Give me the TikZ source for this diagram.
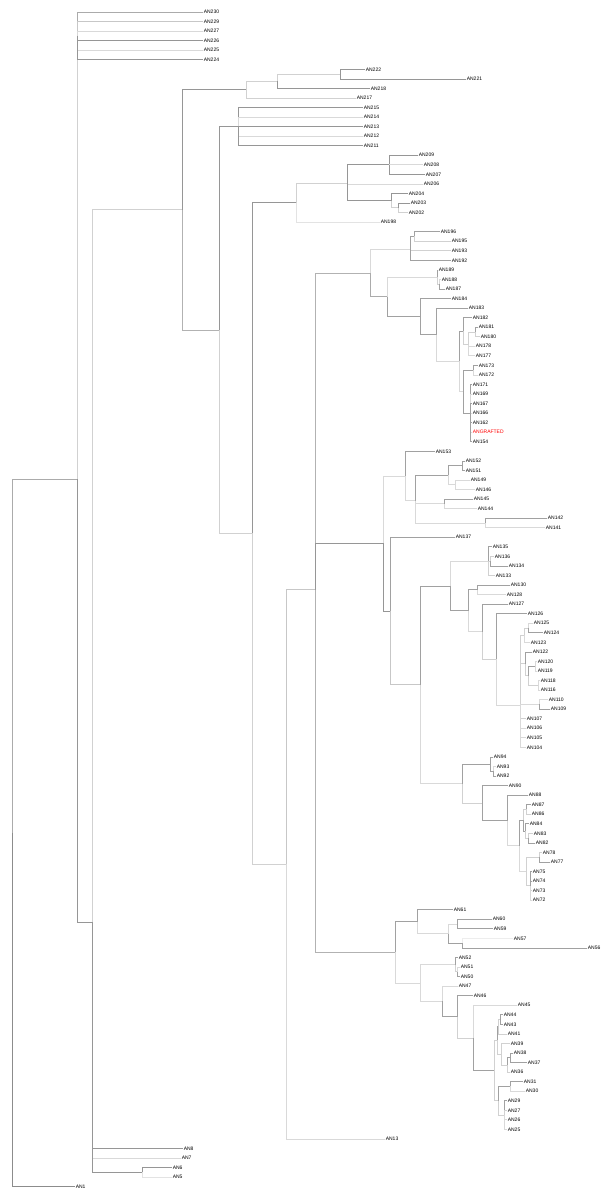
\documentclass[tikz,border=0pt]{standalone}
\usepackage{fontspec}
\setmainfont{Liberation Sans}
\tikzset{
    taxon/.style = { anchor=west, inner sep=0.6pt, font=\fontsize{5}{6}\selectfont },
    grafted/.style = { taxon, text=red },
    branch/.style = { line width=0.7pt }
}
\begin{document}
\begin{tikzpicture}[
    x=1pt, y=-9.55pt,
    taxon/.style = { anchor=west, inner sep=0.6pt, font=\fontsize{5}{6}\selectfont },
    branch/.style = { line width=0.7pt }
    ]
    %%% x is in pixels from the left, y counts the leaves from the top
    \useasboundingbox (0,-0.2565) rectangle (604,125.398);

    %%%
    %%% Leaves
    %%%
    % name / row / end of branch
    \foreach \name / \row / \xend in {AN230/1/203, AN229/2/203, AN227/3/203, AN226/4/203, AN225/5/203, AN224/6/203,
        AN222/7/365, AN221/8/466, AN218/9/370, AN217/10/356,
        AN215/11/363, AN214/12/363, AN213/13/363, AN212/14/363, AN211/15/363,
        AN209/16/418, AN208/17/423, AN207/18/425, AN206/19/423, AN204/20/408, AN203/21/410, AN202/22/408, AN198/23/380,
        AN196/24/440, AN195/25/451, AN193/26/451, AN192/27/451,
        AN189/28/438, AN188/29/441, AN187/30/445, AN184/31/451,
        AN183/32/468, AN182/33/472, AN181/34/478, AN180/35/480, AN178/36/475, AN177/37/475, AN173/38/478, AN172/39/478,
        AN171/40/472, AN169/41/472, AN167/42/472, AN166/43/472, AN162/44/472, AN154/46/472,
        AN153/47/435, AN152/48/465, AN151/49/465, AN149/50/470, AN146/51/475, AN145/52/473, AN144/53/477, AN142/54/547, AN141/55/545,
        AN137/56/455, AN135/57/492, AN136/58/494, AN134/59/508, AN133/60/495, AN130/61/510, AN128/62/506, AN127/63/508,
        AN126/64/527, AN125/65/533, AN124/66/543, AN123/67/530, AN122/68/532, AN120/69/537, AN119/70/537, AN118/71/540, AN116/72/540,
        AN110/73/548, AN109/74/550, AN107/75/526, AN106/76/526, AN105/77/526, AN104/78/526,
        AN94/79/493, AN93/80/496, AN92/81/496, AN90/82/508, AN88/83/528, AN87/84/531, AN86/85/531, AN84/86/529, AN83/87/533, AN82/88/535,
        AN78/89/542, AN77/90/550, AN75/91/532, AN74/92/532, AN73/93/532, AN72/94/532,
        AN61/95/453, AN60/96/492, AN59/97/493, AN57/98/513, AN56/99/587, AN52/100/458, AN51/101/460, AN50/102/460,
        AN47/103/458, AN46/104/473, AN45/105/517, AN44/106/503, AN43/107/503, AN41/108/507, AN39/109/510, AN38/110/513, AN37/111/527, AN36/112/510,
        AN31/113/523, AN30/114/525, AN29/115/507, AN27/116/507, AN26/117/507, AN25/118/507,
        AN13/119/385, AN8/120/183, AN7/121/181, AN6/122/172, AN5/123/172, AN1/124/75}
      {
        \node[taxon] (\name) at (\xend,\row) {\name};
      }
    % The grafted one
    \node[grafted] (ANGRAFTED) at (472,45) {ANGRAFTED};

    %%%
    %%% Inner nodes, each row is the mean of its children
    %%%
    \foreach \name / \xpos / \row in {root/12/86.95, A/77/49.9, B/77/3.5, C/92/96.3, E/142/122.5, D/182/21.71,
        F/246/9.125, F1/277/8.25, F2/340/7.5, G/219/34.3, H/238/13, I/252/55.6,
        J/296/20.96, J1/347/18.92, J2/389/17, J3/391/20.75, J4/398/21.5,
        K/286/90.24, L/315/61.48,
        M/370/28.33, M1/410/25.83, M1a/414/24.5, M2/387/30.82, M3/437/28.75, M3a/439/29.5, M4/420/32.9, M5/436/34.79,
        M9/459/37.58, M6/463/34.42, M7/468/35.83, M8/475/34.5, M10/463/40.75, M11/473/38.5, M12/470/43,
        N/383/56.65, P0/405/49.58, P6/415/52.17, P1/448/49.5, P2/462/48.5, P3/455/50.5, P4/444/52.5, P5/485/54.5,
        Q/390/63.72, S/420/71.44, Q3/450/61.1, Q1/488/58.5, Q2/490/58.5, Q4/468/63.7, Q5/477/61.5, Q6/482/65.89, Q7/496/68.79,
        Q8/520/73.57, Q9/524/66.25, Q10/528/65.5, Q14/525/69.25, Q13/528/70.5, Q11/535/69.5, Q12/538/71.5, Q15/539/73.5,
        R3/462/81.79, R1/490/79.75, R2/493/80.5, R4/482/83.83, R5/507/85.66, R6/519/88.31, R10/523/85.63, R7/526/84.5,
        R9/525/86.75, R8/528/87.5, R16/526/91, R11/539/89.5, R12/530/92.5,
        O/395/99.47, T4/417/96.25, T3/448/97.5, T1/457/96.5, T2/462/98.5, U14/420/102.68, T6/455/100.75, T5/457/101.5,
        U13/442/104.6, U12/457/106.21, U11/473/108.42, U10/494/111.84, U6/497/108.69, U2/498/107.25, U1/500/106.5,
        U5/501/110.13, U4/507/111.25, U3/510/110.5, U9/498/115, U7/510/113.5, U8/504/116.5}
      {
        \coordinate (\name) at (\xpos,\row);
      }

    %%%
    %%% Branches, parent / child / grey level
    %%%
    \foreach \parent / \child / \tone in {root/A/45, root/AN1/60, A/B/25, A/C/55,
        B/AN230/45, B/AN229/30, B/AN227/20, B/AN226/55, B/AN225/20, B/AN224/55,
        C/D/25, C/AN8/55, C/AN7/20, C/E/55, E/AN6/55, E/AN5/15,
        D/F/55, D/G/40, F/F1/25, F/AN217/25, F1/F2/25, F1/AN218/55, F2/AN222/55, F2/AN221/55,
        G/H/55, G/I/25, H/AN215/55, H/AN214/20, H/AN213/55, H/AN212/20, H/AN211/55,
        I/J/55, I/K/25, J/J1/25, J/AN198/15, J1/J2/55, J1/AN206/20, J1/J3/55,
        J2/AN209/55, J2/AN208/20, J2/AN207/55, J3/AN204/55, J3/J4/25, J4/AN203/55, J4/AN202/25,
        K/L/30, K/AN13/20, L/M/40, L/N/55, L/O/40}
      {
        \pgfmathtruncatemacro\shade{0.75*\tone}
        \draw[branch, draw=black!\shade] (\parent) |- (\child);
      }
    % Upper clade
    \foreach \parent / \child / \tone in {M/M1/20, M/M2/45, M1/M1a/50, M1/AN193/25, M1/AN192/50, M1a/AN196/50, M1a/AN195/25,
        M2/M3/20, M2/M4/50, M3/AN189/50, M3/M3a/25, M3a/AN188/20, M3a/AN187/50, M4/AN184/50, M4/M5/50,
        M5/AN183/50, M5/M9/20, M9/M6/50, M9/M10/20, M6/AN182/50, M6/M7/25,
        M7/M8/25, M7/AN178/20, M7/AN177/20, M8/AN181/50, M8/AN180/25,
        M10/M11/50, M10/M12/50, M11/AN173/50, M11/AN172/20,
        M12/AN171/50, M12/AN169/20, M12/AN167/50, M12/AN166/20, M12/AN162/50, M12/ANGRAFTED/20, M12/AN154/50}
      {
        \pgfmathtruncatemacro\shade{0.75*\tone}
        \draw[branch, draw=black!\shade] (\parent) |- (\child);
      }
    % Middle clade
    \foreach \parent / \child / \tone in {N/P0/20, N/Q/55, P0/AN153/50, P0/P6/20, P6/P1/50, P6/P4/20, P6/P5/20,
        P1/P2/50, P1/P3/20, P2/AN152/50, P2/AN151/50, P3/AN149/20, P3/AN146/20,
        P4/AN145/50, P4/AN144/20, P5/AN142/50, P5/AN141/20,
        Q/AN137/50, Q/S/30, S/Q3/50, S/R3/20, Q3/Q1/20, Q3/Q4/50,
        Q1/AN135/50, Q1/Q2/25, Q1/AN133/25, Q2/AN136/25, Q2/AN134/50,
        Q4/Q5/50, Q4/Q6/20, Q5/AN130/50, Q5/AN128/20, Q6/AN127/50, Q6/Q7/25, Q7/AN126/50, Q7/Q8/20,
        Q8/Q9/25, Q8/Q14/25, Q8/Q15/20, Q8/AN107/25, Q8/AN106/20, Q8/AN105/20, Q8/AN104/20,
        Q9/Q10/25, Q9/AN123/20, Q10/AN125/20, Q10/AN124/50, Q14/AN122/50, Q14/Q13/25,
        Q13/Q11/50, Q13/Q12/25, Q11/AN120/20, Q11/AN119/20, Q12/AN118/20, Q12/AN116/20, Q15/AN110/20, Q15/AN109/50,
        R3/R1/50, R3/R4/25, R1/AN94/50, R1/R2/50, R2/AN93/20, R2/AN92/50,
        R4/AN90/50, R4/R5/50, R5/AN88/50, R5/R6/20, R6/R10/50, R6/R16/20,
        R10/R7/25, R10/R9/50, R7/AN87/50, R7/AN86/25, R9/AN84/50, R9/R8/25, R8/AN83/25, R8/AN82/50,
        R16/R11/25, R16/R12/25, R11/AN78/25, R11/AN77/50,
        R12/AN75/50, R12/AN74/50, R12/AN73/25, R12/AN72/20}
      {
        \pgfmathtruncatemacro\shade{0.75*\tone}
        \draw[branch, draw=black!\shade] (\parent) |- (\child);
      }
    % Lower clade
    \foreach \parent / \child / \tone in {O/T4/50, O/U14/20, T4/AN61/50, T4/T3/20, T3/T1/20, T3/T2/50,
        T1/AN60/50, T1/AN59/50, T2/AN57/10, T2/AN56/50,
        U14/T6/20, U14/U13/20, T6/AN52/50, T6/T5/25, T5/AN51/20, T5/AN50/50,
        U13/AN47/20, U13/U12/50, U12/AN46/50, U12/U11/25, U11/AN45/20, U11/U10/50,
        U10/U6/25, U10/U9/25, U6/U2/50, U6/U5/25, U2/U1/25, U2/AN41/25, U1/AN44/50, U1/AN43/50,
        U5/AN39/25, U5/U4/25, U4/U3/50, U4/AN36/25, U3/AN38/50, U3/AN37/50,
        U9/U7/50, U9/U8/25, U7/AN31/50, U7/AN30/20,
        U8/AN29/50, U8/AN27/25, U8/AN26/20, U8/AN25/20}
      {
        \pgfmathtruncatemacro\shade{0.75*\tone}
        \draw[branch, draw=black!\shade] (\parent) |- (\child);
      }
\end{tikzpicture}
\end{document}
